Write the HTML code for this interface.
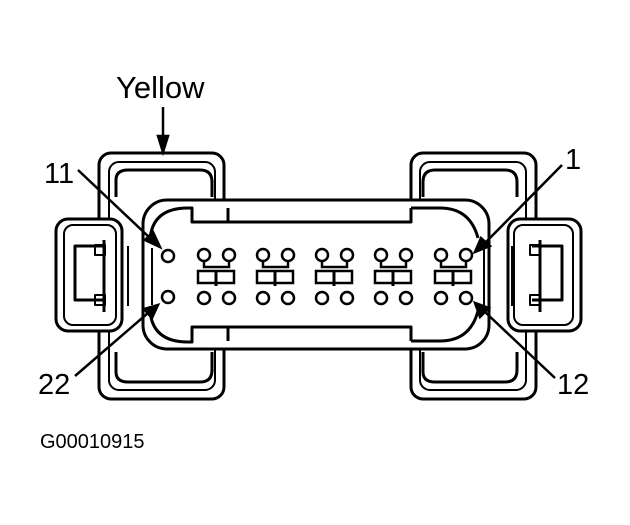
<!DOCTYPE html>
<html><head><style>
html,body{margin:0;padding:0;background:#fff;}
svg{display:block;}
text{font-family:"Liberation Sans",Arial,sans-serif;fill:#000;}
</style></head><body>
<svg width="630" height="525" viewBox="0 0 630 525" xmlns="http://www.w3.org/2000/svg">
<g fill="none" stroke="#000" stroke-width="3" stroke-linejoin="round">
<!-- left top/bottom tab -->
<rect x="99" y="153" width="125" height="246" rx="12"/>
<rect x="109" y="162" width="106" height="228" rx="10" stroke-width="2"/>
<path d="M116 197 V180 q0-10 12-10 H200 q12 0 12 12 V197"/>
<path d="M116 352 V372 q0 10 12 10 H200 q12 0 12-12 V352"/>
<!-- right tab -->
<rect x="411" y="153" width="125" height="246" rx="12"/>
<rect x="420" y="162" width="106" height="228" rx="10" stroke-width="2"/>
<path d="M423 197 V182 q0-12 12-12 H505 q12 0 12 12 V197"/>
<path d="M423 352 V372 q0 10 12 10 H505 q12 0 12-12 V352"/>
<!-- left latch -->
<rect x="56" y="219" width="66" height="112" rx="12" fill="#fff"/>
<rect x="64" y="225" width="52" height="100" rx="9" stroke-width="2"/>
<path d="M104 246 H75 V300 H104" fill="#fff"/>
<rect x="95" y="245" width="10" height="10" stroke-width="2"/>
<rect x="95" y="295" width="10" height="10" stroke-width="2"/>
<line x1="104" y1="240" x2="104" y2="312"/>
<line x1="128" y1="246" x2="128" y2="306" stroke-width="2"/>
<!-- right latch -->
<rect x="508" y="219" width="73" height="112" rx="12" fill="#fff"/>
<rect x="514" y="225" width="59" height="100" rx="9" stroke-width="2"/>
<path d="M532 246 H562 V300 H532" fill="#fff"/>
<rect x="530" y="245" width="10" height="10" stroke-width="2"/>
<rect x="530" y="295" width="10" height="10" stroke-width="2"/>
<line x1="540" y1="240" x2="540" y2="312"/>
<line x1="512" y1="246" x2="512" y2="306" stroke-width="2"/>
<!-- main body -->
<rect x="143" y="200" width="346" height="149" rx="24" fill="#fff"/>
<path d="M150 240 q2-32 38-32 H192 V222 H228 M228 208 V222 H411 V208 M411 208 H440 q30 0 38 30"/>
<path d="M150 310 q2 32 38 32 H192 V327 H228 V341 M228 327 H411 V341 M411 341 H440 q30 0 38-30"/>
<line x1="152" y1="248" x2="152" y2="305" stroke-width="2"/>
<line x1="484" y1="248" x2="484" y2="305" stroke-width="2"/>
</g>
<!-- pins -->
<g fill="none" stroke="#000" stroke-width="2.5">
<circle cx="168" cy="256" r="6"/>
<circle cx="168" cy="297" r="6"/>
<g id="grp">
<circle cx="204" cy="255" r="6"/><circle cx="229" cy="255" r="6"/>
<circle cx="204" cy="298" r="6"/><circle cx="229" cy="298" r="6"/>
<path d="M204 261 V267 H229 V261"/>
<rect x="198" y="271" width="36" height="12"/>
<line x1="216" y1="271" x2="216" y2="286" stroke-width="3"/>
</g>
<use href="#grp" x="59"/>
<use href="#grp" x="118"/>
<use href="#grp" x="177"/>
<use href="#grp" x="237"/>
</g>
<!-- leaders -->
<g stroke="#000" stroke-width="2.5" fill="#000">
<line x1="163" y1="107" x2="163" y2="140"/>
<polygon points="158,136 168,136 163,152"/>
<line x1="78" y1="170" x2="150" y2="238"/>
<polygon points="145,240 153,232 160,247"/>
<line x1="562" y1="165" x2="485" y2="243"/>
<polygon points="481,238 490,246 475,252"/>
<line x1="75" y1="376" x2="148" y2="313"/>
<polygon points="144,309 152,318 158,305"/>
<line x1="555" y1="378" x2="485" y2="312"/>
<polygon points="480,317 489,308 475,303"/>
</g>
<text x="116" y="98" font-size="31">Yellow</text>
<text x="44" y="183" font-size="29">11</text>
<text x="565" y="169" font-size="29">1</text>
<text x="38" y="394" font-size="29">22</text>
<text x="557" y="394" font-size="29">12</text>
<text x="40" y="448" font-size="20">G00010915</text>
</svg>
</body></html>
